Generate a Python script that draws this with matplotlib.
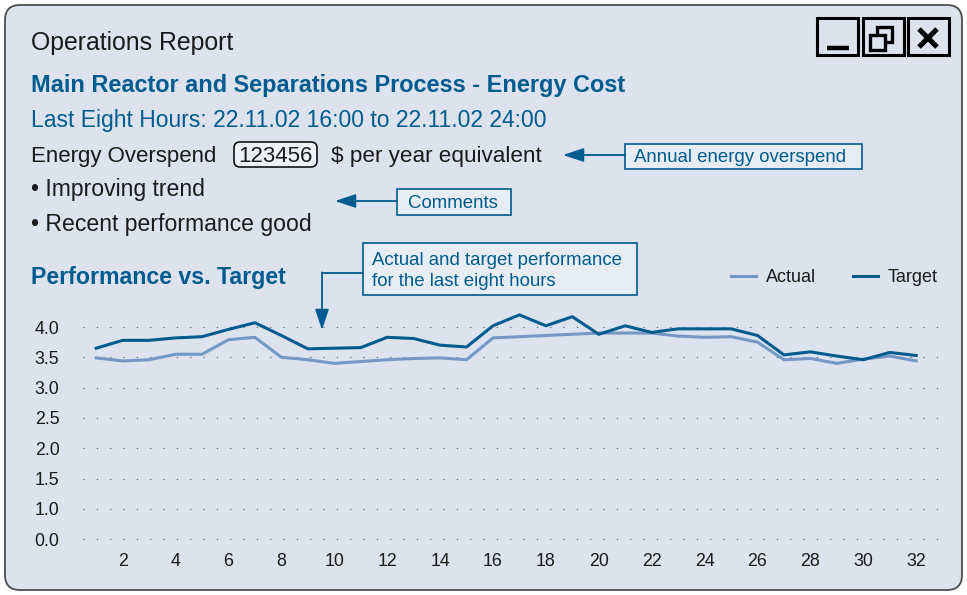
import matplotlib
matplotlib.use("Agg")
import matplotlib.pyplot as plt
from matplotlib.patches import FancyBboxPatch, Rectangle
from matplotlib.lines import Line2D

# ---------------- data ----------------
hours = list(range(1, 33))
actual = [3.49, 3.44, 3.46, 3.55, 3.55, 3.79, 3.83, 3.50, 3.46, 3.40, 3.43, 3.46,
          3.48, 3.49, 3.46, 3.82, 3.84, 3.86, 3.88, 3.90, 3.90, 3.90, 3.85, 3.83,
          3.84, 3.75, 3.46, 3.48, 3.40, 3.47, 3.52, 3.44]
target = [3.65, 3.78, 3.78, 3.82, 3.84, 3.96, 4.07, 3.86, 3.64, 3.65, 3.66, 3.83,
          3.81, 3.70, 3.67, 4.02, 4.20, 4.02, 4.17, 3.88, 4.02, 3.91, 3.97, 3.97,
          3.97, 3.86, 3.54, 3.59, 3.52, 3.46, 3.58, 3.53]
xtick_values = list(range(2, 33, 2))
ytick_values = [0.5, 1.0, 1.5, 2.0, 2.5, 3.0, 3.5, 4.0]
ytick_labels = ["0.0", "1.0", "1.5", "2.0", "2.5", "3.0", "3.5", "4.0"]
series_names = ["Actual", "Target"]

# ---------------- style ----------------
W, H = 967, 595
PANEL = "#dce3ee"
BLUE = "#005b8e"
LIGHT = "#7398c5"
BOXFILL = "#e7edf5"
TXT = "#1a1a1a"
FONT = "Liberation Sans"
plt.rcParams["font.family"] = [FONT, "DejaVu Sans"]

fig = plt.figure(figsize=(W / 100, H / 100), dpi=100, facecolor="white")

bg = fig.add_axes([0, 0, 1, 1], zorder=0)
bg.set_xlim(0, W)
bg.set_ylim(H, 0)
bg.axis("off")

# panel
bg.add_patch(FancyBboxPatch((5, 5), W - 10, H - 10,
                            boxstyle="round,pad=0,rounding_size=15",
                            facecolor=PANEL, edgecolor="#4d4d4d", lw=1.3))

# window buttons
for x0 in (817, 863, 908):
    bg.add_patch(Rectangle((x0, 18), 41, 37, facecolor=PANEL,
                           edgecolor="black", lw=2.2))
bg.plot([827, 849], [48, 48], color="black", lw=3.2, solid_capstyle="butt")
bg.add_patch(Rectangle((877, 27), 15, 15, facecolor="none", edgecolor="black", lw=2.4))
bg.add_patch(Rectangle((870, 35), 15, 15, facecolor=PANEL, edgecolor="black", lw=2.4))
bg.plot([919, 937], [29, 47], color="black", lw=3.6, solid_capstyle="butt")
bg.plot([919, 937], [47, 29], color="black", lw=3.6, solid_capstyle="butt")

# header texts
bg.text(31, 50, "Operations Report", fontsize=17.9, color=TXT, va="baseline")
bg.text(31, 92, "Main Reactor and Separations Process - Energy Cost",
        fontsize=16.9, color=BLUE, va="baseline", fontweight="bold")
bg.text(31, 127, "Last Eight Hours: 22.11.02 16:00 to 22.11.02 24:00",
        fontsize=16.45, color=BLUE, va="baseline")
bg.text(31, 162, "Energy Overspend", fontsize=16, color=TXT, va="baseline")
bg.add_patch(FancyBboxPatch((234, 142), 83, 25,
                            boxstyle="round,pad=0,rounding_size=6",
                            facecolor="#eef2f8", edgecolor="black", lw=1.1))
bg.text(275.5, 162, "123456", fontsize=16, color=TXT, va="baseline", ha="center")
bg.text(331, 162, "$ per year equivalent", fontsize=16.2, color=TXT, va="baseline")
bg.text(31, 196, "\u2022 Improving trend", fontsize=16.6, color=TXT, va="baseline")
bg.text(31, 231, "\u2022 Recent performance good", fontsize=16.6, color=TXT, va="baseline")
bg.text(31, 284, "Performance vs. Target", fontsize=16.7, color=BLUE,
        va="baseline", fontweight="bold")

arrow_kw = dict(arrowstyle="-|>,head_length=0.9,head_width=0.3", color=BLUE,
                lw=1.3, mutation_scale=14, shrinkA=0, shrinkB=0)

# annotation boxes
bg.add_patch(Rectangle((625, 144), 237, 25, facecolor=BOXFILL, edgecolor=BLUE, lw=1.2))
bg.text(740, 157.5, "Annual energy overspend", fontsize=13.4, color=BLUE,
        ha="center", va="center")
bg.annotate("", xy=(563, 155), xytext=(625, 155), arrowprops=arrow_kw)

bg.add_patch(Rectangle((397, 189), 114, 26, facecolor=BOXFILL, edgecolor=BLUE, lw=1.2))
bg.text(453, 203, "Comments", fontsize=13.4, color=BLUE, ha="center", va="center")
bg.annotate("", xy=(335, 201), xytext=(397, 201), arrowprops=arrow_kw)

bg.add_patch(Rectangle((363, 243), 274, 52, facecolor=BOXFILL, edgecolor=BLUE, lw=1.2))
bg.text(372, 265, "Actual and target performance", fontsize=13.4, color=BLUE, va="baseline")
bg.text(372, 286, "for the last eight hours", fontsize=13.4, color=BLUE, va="baseline")
bg.plot([363, 322], [273, 273], color=BLUE, lw=1.3)
bg.annotate("", xy=(322, 330), xytext=(322, 272.4), arrowprops=arrow_kw)

# ---------------- chart ----------------
left, right = 83 / W, 940 / W
ylo, yhi = 0.45, 4.3
px_per_unit = 60.6
bottom_px = 327 + (4.0 - ylo) * px_per_unit
top_px = 327 - (yhi - 4.0) * px_per_unit
ax = fig.add_axes([left, 1 - bottom_px / H, right - left, (bottom_px - top_px) / H],
                  zorder=1)
ax.set_facecolor("none")
ax.plot(hours, actual, color=LIGHT, lw=2.2, label=series_names[0], zorder=3)
ax.plot(hours, target, color=BLUE, lw=2.2, label=series_names[1], zorder=4)
ax.set_xlim(0.5, 32.9)
ax.set_ylim(ylo, yhi)
ax.set_xticks(xtick_values)
ax.set_yticks(ytick_values)
ax.set_yticklabels(ytick_labels)
for s in ax.spines.values():
    s.set_visible(False)
ax.tick_params(axis="both", length=0, labelsize=12.8, colors=TXT)
ax.tick_params(axis="y", pad=17)
ax.tick_params(axis="x", pad=8)
ax.grid(axis="y", color="#555555", lw=0.8, linestyle=(0, (1, 11)))
ax.set_axisbelow(True)

handles = [Line2D([], [], color=LIGHT, lw=2.2), Line2D([], [], color=BLUE, lw=2.2)]
fig.legend(handles, series_names, loc="center right",
           bbox_to_anchor=(954 / W, 1 - 278 / H), ncol=2, frameon=False,
           fontsize=13, handlelength=1.4, handletextpad=0.55,
           columnspacing=2.0, labelcolor=TXT)

fig.savefig("out.png", dpi=100, facecolor="white")
